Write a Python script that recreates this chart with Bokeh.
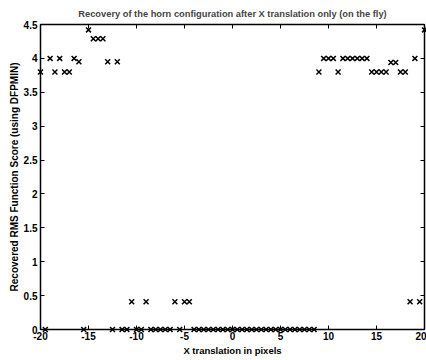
from bokeh.plotting import figure
from bokeh.models import LinearAxis, FixedTicker
from bokeh.embed import file_html
from bokeh.resources import INLINE

x_shift = [-20, -19.5, -19, -18.5, -18, -17.5, -17, -16.5, -16, -15.5,
           -15, -14.5, -14, -13.5, -13, -12.5, -12, -11.5, -11, -10.5,
           -10, -9.5, -9, -8.5, -8, -7.5, -7, -6.5, -6, -5.5,
           -5, -4.5, -4, -3.5, -3, -2.5, -2, -1.5, -1, -0.5,
           0, 0.5, 1, 1.5, 2, 2.5, 3, 3.5, 4, 4.5,
           5, 5.5, 6, 6.5, 7, 7.5, 8, 8.5, 9, 9.5,
           10, 10.5, 11, 11.5, 12, 12.5, 13, 13.5, 14, 14.5,
           15, 15.5, 16, 16.5, 17, 17.5, 18, 18.5, 19, 19.5, 20]
score = [3.8, 0, 4.0, 3.8, 4.0, 3.8, 3.8, 4.0, 3.95, 0,
         4.42, 4.29, 4.29, 4.29, 3.95, 0, 3.95, 0, 0, 0.41,
         0, 0, 0.41, 0, 0, 0, 0, 0, 0.41, 0,
         0.41, 0.41, 0, 0, 0, 0, 0, 0, 0, 0,
         0, 0, 0, 0, 0, 0, 0, 0, 0, 0,
         0, 0, 0, 0, 0, 0, 0, 0, 3.8, 4.0,
         4.0, 4.0, 3.8, 4.0, 4.0, 4.0, 4.0, 4.0, 4.0, 3.8,
         3.8, 3.8, 3.8, 3.94, 3.94, 3.8, 3.8, 0.41, 4.0, 0.41, 4.42]

x_ticks = [-20, -15, -10, -5, 0, 5, 10, 15, 20]
x_tick_labels = ["-20", "-15", "-10", "-5", "0", "5", "10", "15", "20"]
y_ticks = [0, 0.5, 1, 1.5, 2, 2.5, 3, 3.5, 4, 4.5]
y_tick_labels = ["0", "0.5", "1", "1.5", "2", "2.5", "3", "3.5", "4", "4.5"]

FONT = "Liberation Sans"

p = figure(width=426, height=360, x_range=(-20, 20), y_range=(0, 4.5),
           output_backend="svg", toolbar_location=None,
           min_border_left=40, min_border_right=2, min_border_top=23, min_border_bottom=31,
           title="Recovery of the horn configuration after X translation only (on the fly)")
p.title.text_font = FONT
p.title.text_font_size = "9.3px"
p.title.text_font_style = "bold"
p.title.align = "center"
p.title.offset = 0
p.title.standoff = 12

p.xgrid.visible = False
p.ygrid.visible = False
p.outline_line_color = "black"
p.outline_line_width = 1
p.background_fill_color = "white"
p.border_fill_color = "white"

r = p.scatter(x_shift, score, marker="x", size=7, line_color="black", line_width=1.5)
r.level = "overlay"

def style(ax, labels=True):
    ax.axis_line_color = "black"
    ax.axis_line_width = 1.5
    ax.major_tick_in = 4
    ax.major_tick_out = 0
    ax.minor_tick_line_color = None
    ax.major_tick_line_color = "black"
    ax.major_tick_line_width = 1
    ax.major_label_text_font = FONT
    ax.major_label_text_font_size = "10px"
    ax.major_label_text_font_style = "bold"
    ax.major_label_text_color = "black"
    ax.axis_label_text_font = FONT
    ax.axis_label_text_font_style = "bold"
    ax.axis_label_text_color = "black"
    if not labels:
        ax.major_label_standoff = 0

xa = p.xaxis[0]
xa.ticker = FixedTicker(ticks=x_ticks)
xa.major_label_overrides = {t: l for t, l in zip(x_ticks, x_tick_labels)}
xa.axis_label = "X translation in pixels"
style(xa)
xa.axis_label_text_font_size = "9.5px"
xa.major_label_standoff = 2
xa.axis_label_standoff = 2

ya = p.yaxis[0]
ya.ticker = FixedTicker(ticks=y_ticks)
ya.major_label_overrides = {t: l for t, l in zip(y_ticks, y_tick_labels)}
ya.axis_label = "Recovered RMS Function Score (using DFPMIN)"
style(ya)
ya.axis_label_text_font_size = "10px"
ya.major_label_standoff = 3
ya.axis_label_standoff = 1

top = LinearAxis(ticker=FixedTicker(ticks=x_ticks))
style(top, labels=False)
top.major_label_overrides = {t: "" for t in x_ticks}
p.add_layout(top, "above")
right = LinearAxis(ticker=FixedTicker(ticks=y_ticks))
style(right, labels=False)
right.major_label_overrides = {t: "" for t in y_ticks}
p.add_layout(right, "right")

open("out.html", "w").write(file_html(p, INLINE))
